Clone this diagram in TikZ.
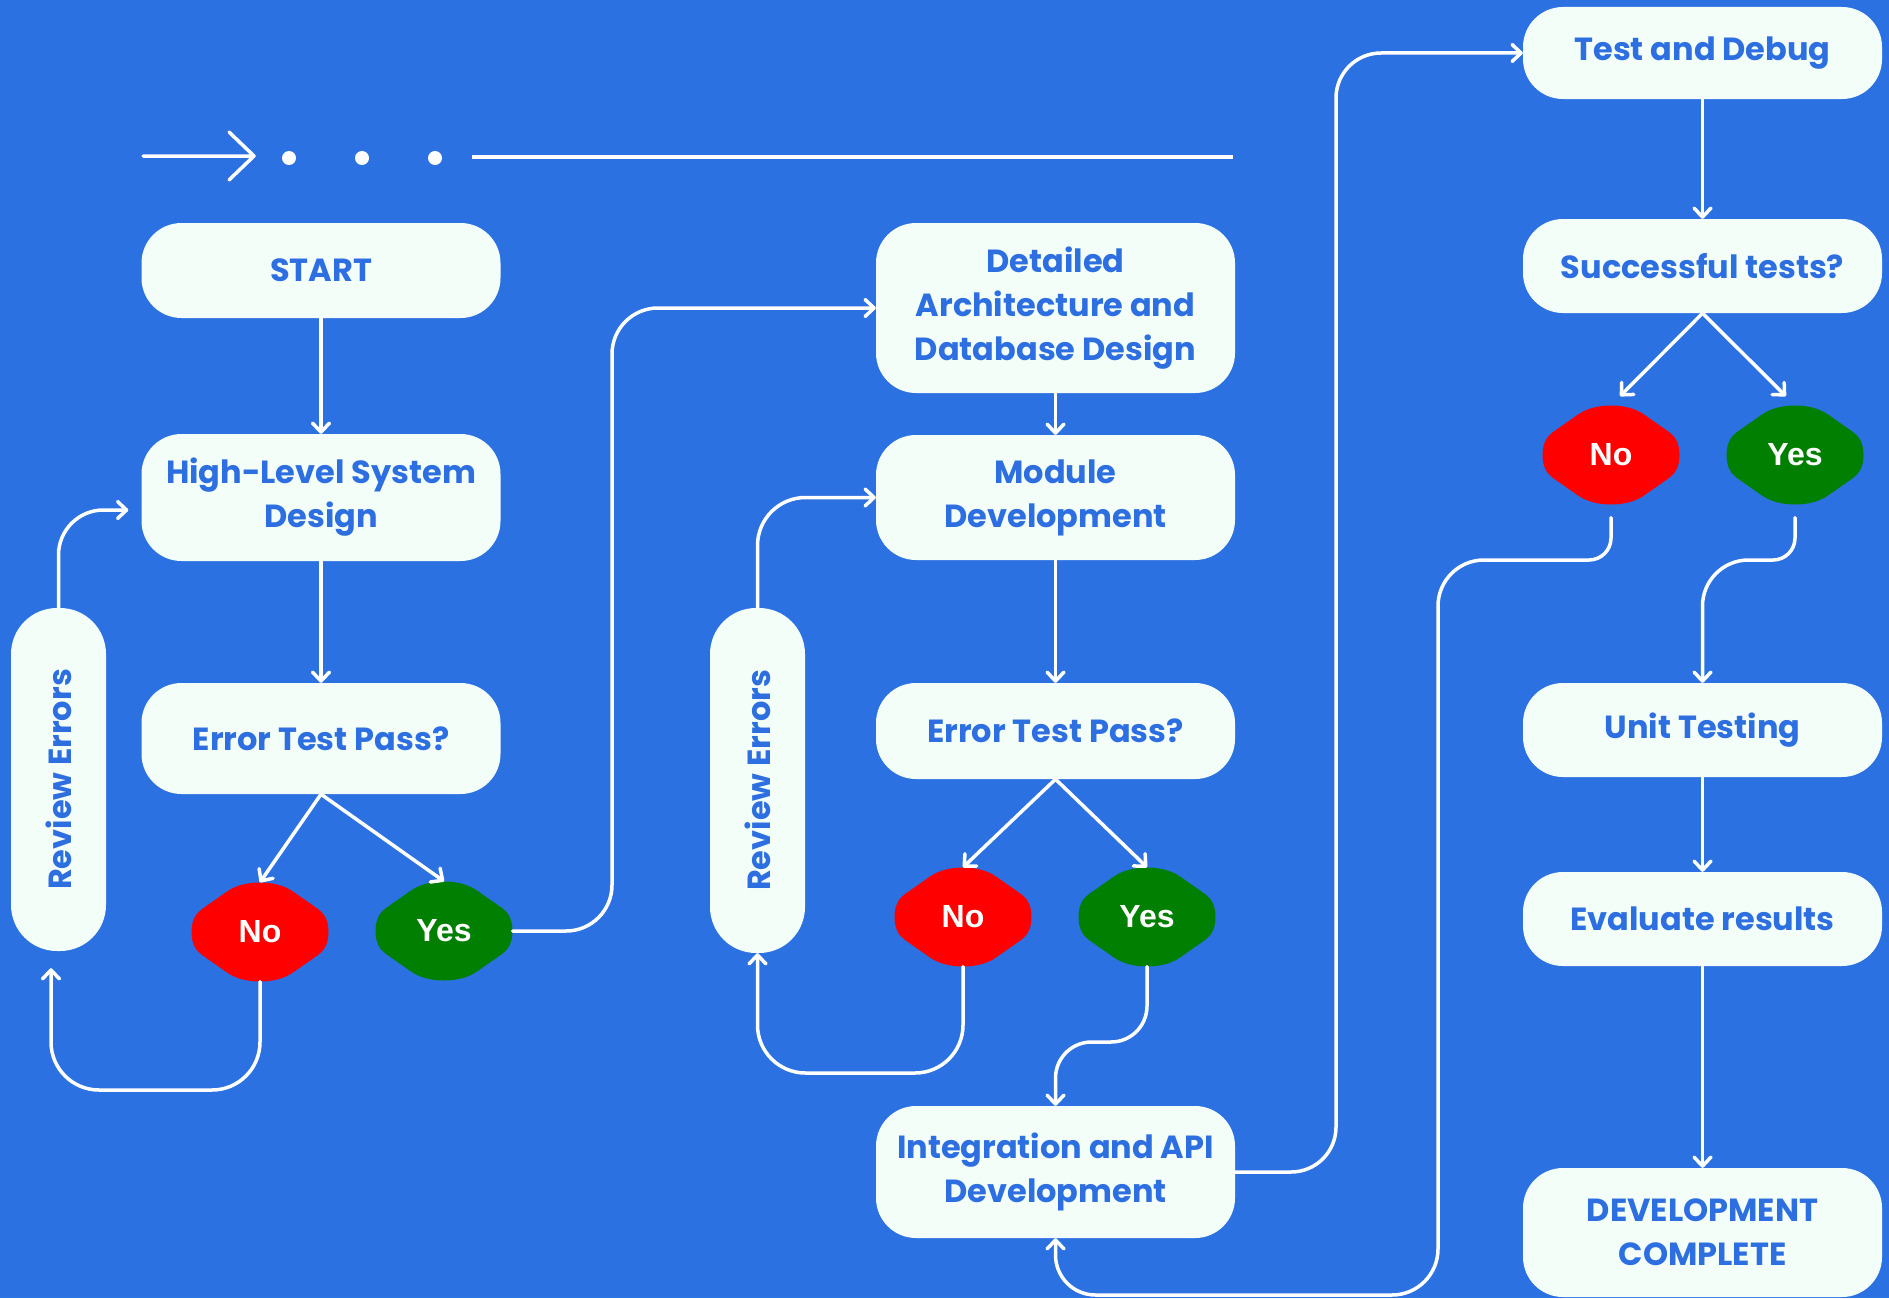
\documentclass[tikz,border=0pt]{standalone}
\usepackage{fontspec}
\usepackage{graphicx}
\setmainfont{Poppins}
\newfontfamily\blobfont{Liberation Sans}
\usetikzlibrary{arrows.meta}
\definecolor{bgblue}{HTML}{2C71E1}
\definecolor{txtblue}{HTML}{2D6FE0}
\definecolor{boxfill}{HTML}{F3FEF8}
\definecolor{nored}{HTML}{FF0000}
\definecolor{yesgreen}{HTML}{007F00}
\newcommand\myblob[5]{%
  \fill[#4, shift={(#2,#3)}]
    (-33,-40.5) .. controls (-24,-46.8) and (-12,-49.5) .. (0,-49.5) .. controls (12,-49.5) and (24,-46.8) .. (33,-40.5)
    -- (58,-23) .. controls (63.5,-19.1) and (68.5,-12.5) .. (68.5,0) .. controls (68.5,12.5) and (63.5,19.1) .. (58,23)
    -- (33,40.5) .. controls (24,46.8) and (12,49.5) .. (0,49.5) .. controls (-12,49.5) and (-24,46.8) .. (-33,40.5)
    -- (-58,23) .. controls (-63.5,19.1) and (-68.5,12.5) .. (-68.5,0) .. controls (-68.5,-12.5) and (-63.5,-19.1) .. (-58,-23) -- cycle;
  \node[blobtext] (#1) at (#2,#3) {#5};}
\begin{document}
\begin{tikzpicture}[x=1pt,y=-1pt,
  box/.style={fill=boxfill, rounded corners=40pt, text=txtblue, font=\fontsize{32}{44}\selectfont\bfseries, align=center, inner sep=0pt},
  blobtext/.style={text=white, font=\blobfont\fontsize{32}{36}\selectfont\bfseries, minimum width=137pt, minimum height=99pt, inner sep=0pt},
  arr/.style={draw=white, line width=3.5pt, line cap=round, line join=round, -{Straight Barb[length=9pt,width=17pt,line cap=round,line join=round]}}]
\useasboundingbox (0,0) rectangle (1889,1298);
\fill[bgblue] (0,0) rectangle (1889,1298);
% decoration
\draw[white, line width=3.5pt, line cap=round, line join=round] (143,156) -- (254,156) (229,132) -- (254,156) -- (229,180);
\fill[white] (289,158) circle (7pt) (362,158) circle (7pt) (435,158) circle (7pt);
\draw[white, line width=4pt] (472,157) -- (1233,157);
% column 1
\node[box, minimum width=359pt, minimum height=95pt] (start) at (321,270.5) {START};
\node[box, minimum width=359pt, minimum height=127pt] (hlsd) at (321,497.5) {High-Level System\\Design};
\node[box, minimum width=359pt, minimum height=111pt] (err1) at (321,738.5) {Error Test Pass?};
\node[box, minimum width=95pt, minimum height=343pt, rounded corners=46pt] (rev1) at (58.5,779.5) {\rotatebox{90}{Review Errors}};
\myblob{no1}{260}{932}{nored}{No}
\myblob{yes1}{444}{931}{yesgreen}{Yes}
% column 2
\node[box, minimum width=359pt, minimum height=170pt] (det) at (1055.5,308) {Detailed\\Architecture and\\Database Design};
\node[box, minimum width=359pt, minimum height=125pt] (mod) at (1055.5,497.5) {Module\\Development};
\node[box, minimum width=359pt, minimum height=96pt] (err2) at (1055.5,731) {Error Test Pass?};
\node[box, minimum width=95pt, minimum height=345pt, rounded corners=46pt] (rev2) at (757.5,780.5) {\rotatebox{90}{Review Errors}};
\myblob{no2}{963}{917}{nored}{No}
\myblob{yes2}{1147}{917}{yesgreen}{Yes}
\node[box, minimum width=359pt, minimum height=132pt] (integ) at (1055.5,1172) {Integration and API\\Development};
% column 3
\node[box, minimum width=359pt, minimum height=92pt] (td) at (1702.5,53) {Test and Debug};
\node[box, minimum width=359pt, minimum height=94pt] (st) at (1702.5,266) {Successful tests?};
\myblob{no3}{1611}{455}{nored}{No}
\myblob{yes3}{1795}{455}{yesgreen}{Yes}
\node[box, minimum width=359pt, minimum height=94pt] (ut) at (1702.5,730) {Unit Testing};
\node[box, minimum width=359pt, minimum height=94pt] (ev) at (1702.5,919) {Evaluate results};
\node[box, minimum width=359pt, minimum height=129pt] (dc) at (1702.5,1232.5) {DEVELOPMENT\\COMPLETE};
% connectors
\draw[arr] (start) -- (hlsd);
\draw[arr] (hlsd) -- (err1);
\draw[arr] (err1.south) -- (no1.north);
\draw[arr] (err1.south) -- (yes1.north);
\draw[arr, rounded corners=46pt] (yes1.east) -| (612,308) -- (det.west);
\draw[arr, rounded corners=48pt] (no1.south) -- (260,1090) -| ([xshift=-7.5pt,yshift=-17pt]rev1.south);
\draw[arr, rounded corners=45pt] (rev1.north) |- ([xshift=-13pt,yshift=-12.5pt]hlsd.west);
\draw[arr] (det) -- (mod);
\draw[arr] (mod) -- (err2);
\draw[arr] (err2.south) -- (no2.north);
\draw[arr] (err2.south) -- (yes2.north);
\draw[arr, rounded corners=48pt] (no2.south) -- (963,1073) -| (rev2.south);
\draw[arr, rounded corners=48pt] (rev2.north) |- (mod.west);
\draw[arr, rounded corners=36pt] (yes2.south) -- (1147,1042) -| (integ.north);
\draw[arr, rounded corners=45pt] (integ.east) -| (1336,53) -- (td.west);
\draw[arr] (td) -- (st);
\draw[arr, shorten >=13pt] (st.south) -- (no3.north);
\draw[arr, shorten >=13pt] (st.south) -- (yes3.north);
\draw[arr, shorten <=13pt] (yes3.south) [rounded corners=22pt] -- (1795,560) [rounded corners=46pt] -| (ut.north);
\draw[arr, shorten <=13pt] (no3.south) [rounded corners=22pt] -- (1611,560) [rounded corners=46pt] -- (1438,560) -- (1438,1295) [rounded corners=40pt] -- (1055.5,1295) -- (integ.south);
\draw[arr] (ut) -- (ev);
\draw[arr] (ev) -- (dc);
\end{tikzpicture}
\end{document}
